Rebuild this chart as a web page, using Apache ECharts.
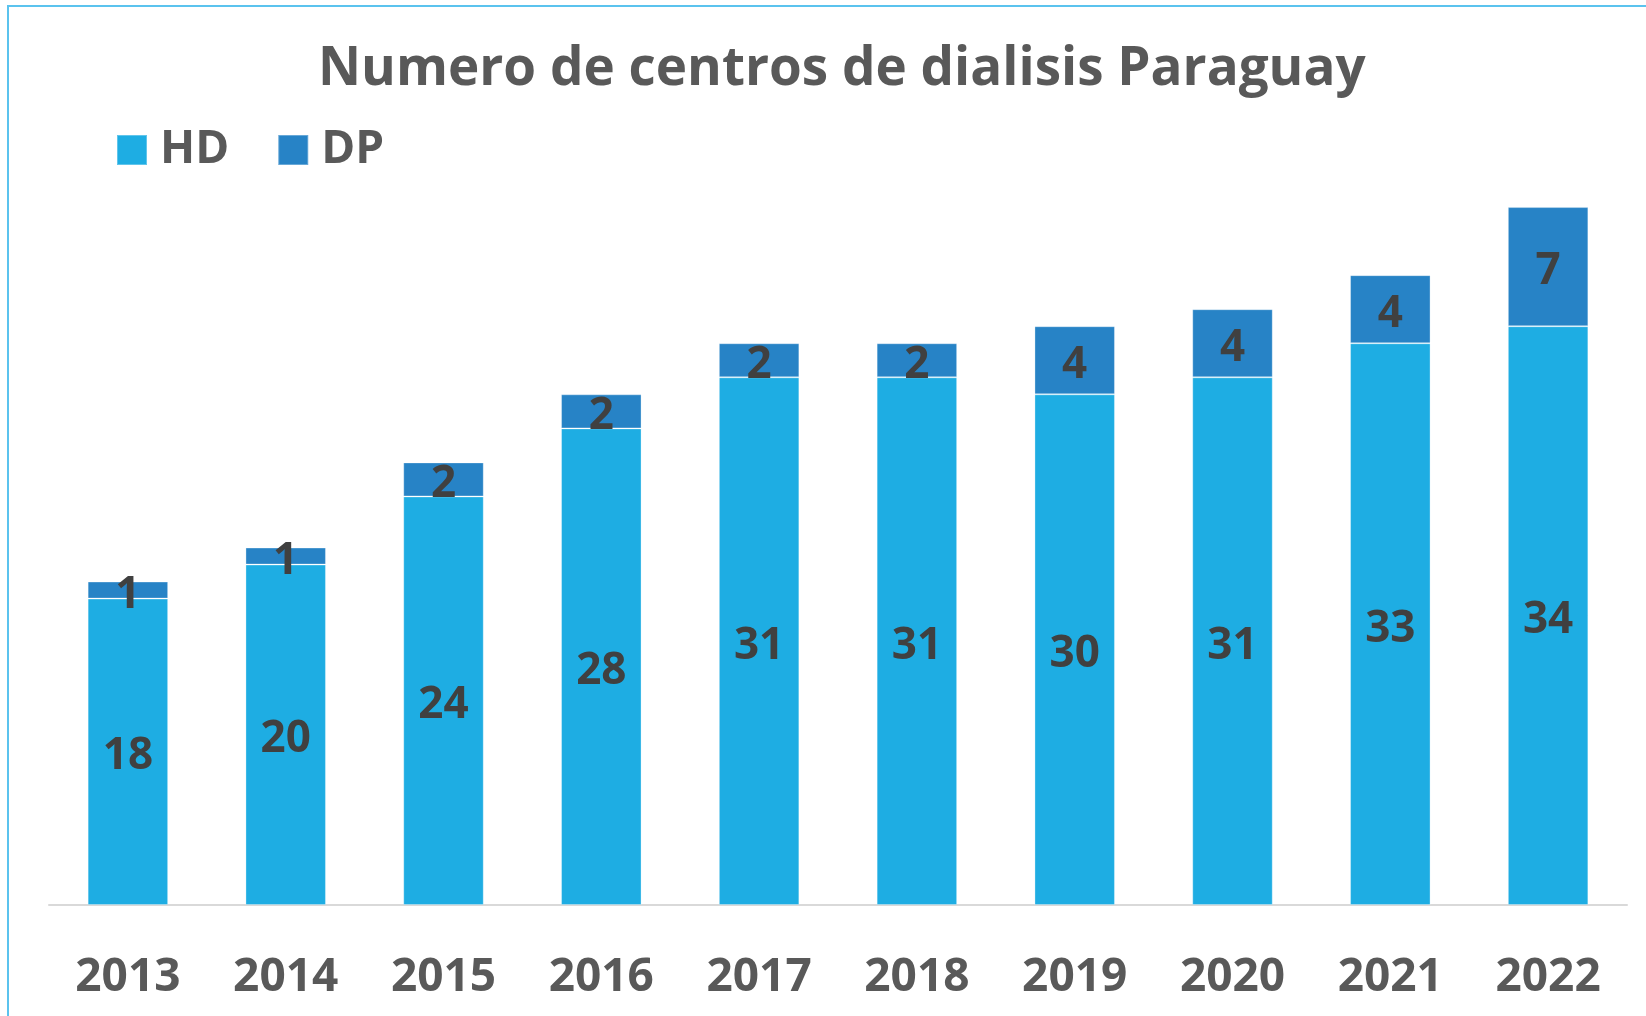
<!DOCTYPE html>
<html>
<head>
<meta charset="utf-8">
<script src="https://cdn.jsdelivr.net/npm/echarts@6/dist/echarts.min.js"></script>
<style>
  html, body { margin: 0; padding: 0; background: #fff; }
  #chart { width: 1646px; height: 1016px; }
</style>
</head>
<body>
<div id="chart"></div>
<script>
const years = ['2013', '2014', '2015', '2016', '2017', '2018', '2019', '2020', '2021', '2022']
const hdValues = [18, 20, 24, 28, 31, 31, 30, 31, 33, 34]
const dpValues = [1, 1, 2, 2, 2, 2, 4, 4, 4, 7]

const fontFamily = '"Open Sans", "Noto Sans", sans-serif'
const labelStyle = {
  show: true,
  position: 'inside',
  offset: [0, 5],
  color: '#404040',
  fontFamily,
  fontWeight: 'bold',
  fontSize: 44,
}

const chart = echarts.init(document.getElementById('chart'))
chart.setOption({
  animation: false,
  graphic: [{
    type: 'rect',
    shape: { x: 8, y: 6, width: 1700, height: 1100 },
    style: { fill: 'none', stroke: '#5bc3ee', lineWidth: 2 },
    silent: true,
  }],
  title: {
    text: 'Numero de centros de dialisis Paraguay',
    left: 313,
    top: 38,
    textStyle: { color: '#595959', fontFamily, fontWeight: 'bold', fontSize: 53 },
  },
  legend: {
    left: 111,
    top: 122,
    itemWidth: 30,
    itemHeight: 30,
    itemGap: 48,
    icon: 'rect',
    textStyle: { color: '#595959', fontFamily, fontWeight: 'bold', fontSize: 46, padding: [0, 0, 0, 8] },
    data: ['HD', 'DP'],
  },
  grid: { left: 49, right: 19, top: 139, bottom: 111, containLabel: false },
  xAxis: {
    type: 'category',
    data: years,
    axisLine: { lineStyle: { color: '#d9d9d9', width: 2 } },
    axisTick: { show: false },
    axisLabel: {
      color: '#595959',
      fontFamily,
      fontWeight: 'bold',
      fontSize: 46,
      margin: 50,
    },
  },
  yAxis: {
    type: 'value',
    min: 0,
    max: 45,
    show: false,
    splitLine: { show: false },
  },
  series: [
    {
      name: 'HD',
      type: 'bar',
      stack: 'total',
      barWidth: '51%',
      data: hdValues,
      itemStyle: { color: '#1eade3', borderColor: 'rgba(255,255,255,0.3)', borderWidth: 1 },
      label: labelStyle,
    },
    {
      name: 'DP',
      type: 'bar',
      stack: 'total',
      barWidth: '51%',
      data: dpValues,
      itemStyle: { color: '#2783c6', borderColor: 'rgba(255,255,255,0.3)', borderWidth: 1 },
      label: labelStyle,
    },
  ],
})
</script>
</body>
</html>
